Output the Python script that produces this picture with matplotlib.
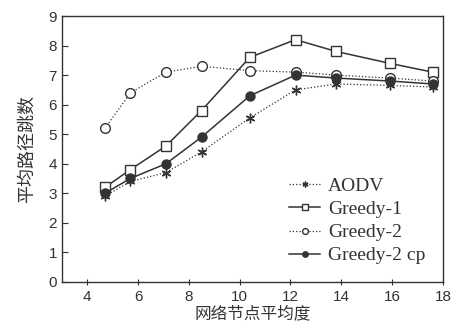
import matplotlib
matplotlib.use("Agg")
import matplotlib.pyplot as plt

degree = [4.7, 5.7, 7.1, 8.5, 10.4, 12.2, 13.8, 15.9, 17.6]
aodv = [2.9, 3.4, 3.7, 4.4, 5.55, 6.5, 6.7, 6.65, 6.6]
greedy1 = [3.2, 3.8, 4.6, 5.8, 7.6, 8.2, 7.8, 7.4, 7.1]
greedy2 = [5.2, 6.4, 7.1, 7.3, 7.15, 7.1, 7.0, 6.9, 6.8]
greedy2cp = [3.0, 3.5, 4.0, 4.9, 6.3, 7.0, 6.9, 6.8, 6.7]

xticks = [4, 6, 8, 10, 12, 14, 16, 18]
yticks = list(range(0, 10))

col = '#333333'
fig = plt.figure(figsize=(4.51, 3.27), dpi=100)
ax = fig.add_axes([0.137, 0.138, 0.845, 0.813])

ax.plot(degree, aodv, ls=':', color=col, lw=0.9, marker=(6, 2, 0), ms=7,
        mew=1.0, label='AODV')
ax.plot(degree, greedy1, ls='-', color=col, lw=1.1, marker='s', ms=6.5,
        mfc='white', mew=1.0, label='Greedy-1')
ax.plot(degree, greedy2, ls=':', color=col, lw=0.9, marker='o', ms=7,
        mfc='white', mew=1.0, label='Greedy-2')
ax.plot(degree, greedy2cp, ls='-', color=col, lw=1.1, marker='o', ms=6.5,
        mfc=col, label='Greedy-2 cp')

ax.set_xlim(3, 18)
ax.set_ylim(0, 9)
ax.set_xticks(xticks)
ax.set_yticks(yticks)
ax.tick_params(axis='x', direction='inout', length=5, labelsize=11, colors=col)
ax.tick_params(axis='y', direction='in', length=4, labelsize=11, colors=col)
for lab in ax.get_xticklabels() + ax.get_yticklabels():
    lab.set_family('Liberation Sans')
for s in ax.spines.values():
    s.set_color(col)
    s.set_linewidth(1.0)

cjk = ['Noto Sans CJK SC', 'DejaVu Sans']
ax.set_xlabel('网络节点平均度', family=cjk, fontsize=12, color=col, labelpad=1)
ax.set_ylabel('平均路径跳数', family=cjk, fontsize=13, color=col, labelpad=9)

leg = ax.legend(loc='lower right', frameon=False, handlelength=1.6,
                prop={'family': 'Liberation Serif', 'size': 14},
                labelspacing=0.28, handletextpad=0.4,
                bbox_to_anchor=(1.0, 0.0), markerscale=0.6)
for t in leg.get_texts():
    t.set_color(col)

fig.savefig('out.png', dpi=100)
